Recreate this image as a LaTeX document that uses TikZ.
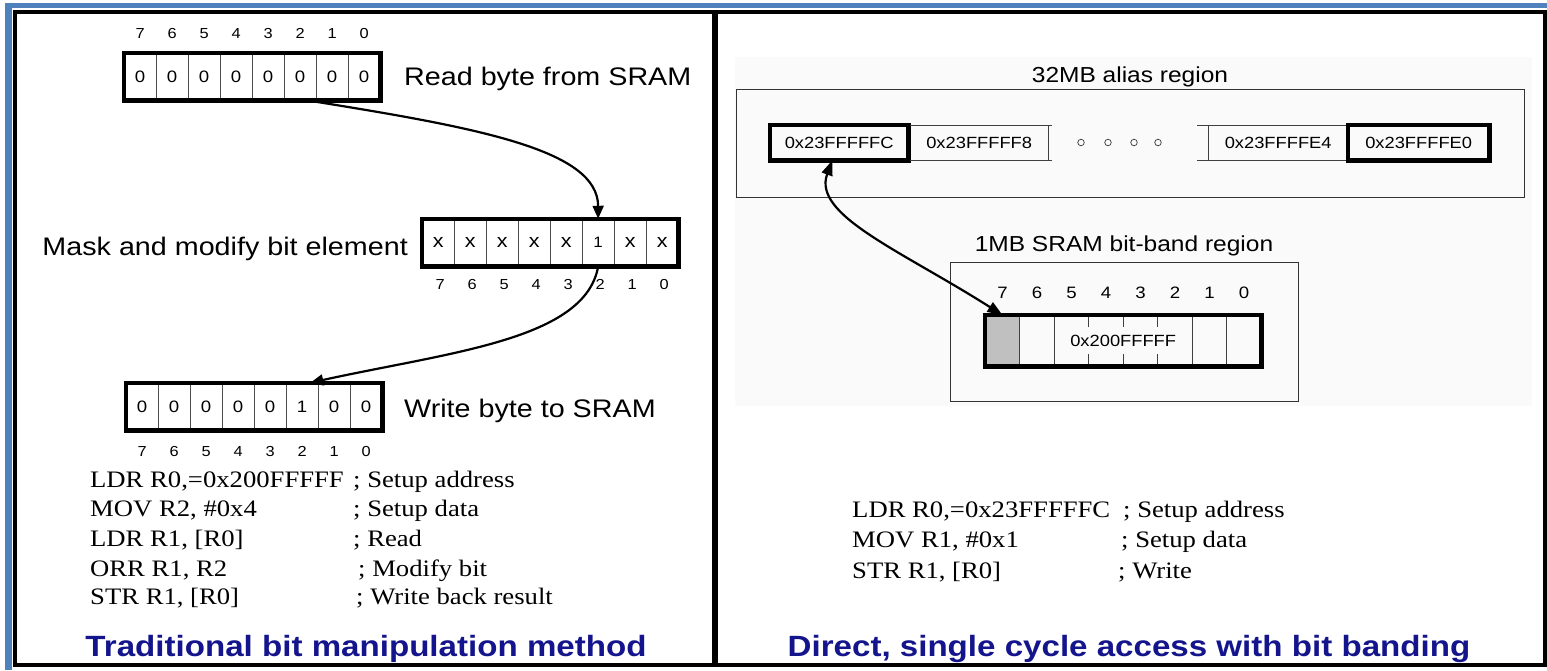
\documentclass[tikz,border=0pt]{standalone}
\usepackage{fontspec}
\setmainfont[FakeStretch=1.13]{Liberation Serif}
\newfontfamily\arial[FakeStretch=1.13]{Liberation Sans}
\usetikzlibrary{arrows.meta,calc}
\definecolor{frameblue}{RGB}{79,129,189}
\definecolor{titleblue}{RGB}{20,20,140}
\definecolor{bitgray}{RGB}{192,192,192}
\newcommand{\fsz}[1]{\fontsize{#1pt}{#1pt}\selectfont}

\begin{document}
\begin{tikzpicture}[x=1pt,y=-1pt,
  bitcell/.style={draw=black!70, line width=0.8pt, minimum width=32pt, minimum height=47pt,
    inner sep=0pt, anchor=north west, font=\arial\fsz{16.5}},
  byteframe/.style={line width=4.2pt},
  bitno/.style={inner sep=0pt, font=\arial\fsz{14.5}},
  bitnoR/.style={inner sep=0pt, font=\arial\fsz{16.5}},
  lbl/.style={inner sep=0pt, anchor=base west, font=\arial\fsz{25.4}},
  rlbl/.style={inner sep=0pt, anchor=base, font=\arial\fsz{21.7}},
  code/.style={inner sep=0pt, anchor=base west, font=\fsz{23.6}},
  heading/.style={inner sep=0pt, anchor=base, text=titleblue, font=\arial\bfseries\fsz{29.3}},
  addr/.style={inner sep=0pt, font=\arial\fsz{16.2}},
  addrcell/.style={addr, minimum height=35pt, anchor=north west},
  thinframe/.style={draw=black!80, line width=0.9pt},
  divider/.style={draw=black!75, line width=0.9pt},
  flow/.style={line width=2.2pt, -{Triangle[length=13pt,width=11pt]}},
  dotc/.style={circle, draw=black!80, line width=0.7pt, minimum size=6.5pt, inner sep=0pt},
  bbcell/.style={minimum width=34.5pt, minimum height=51pt, inner sep=0pt, anchor=north west}
]
\useasboundingbox (0,0) rectangle (1547,670);
\fill[white] (0,0) rectangle (1547,670);

% outer frames
\fill[frameblue] (4.5,2.5) rectangle (1547,7.5);
\fill[frameblue] (4.5,2.5) rectangle (11.5,670);
\draw[line width=4pt] (15.3,12) rectangle (1544.5,665);
\draw[line width=6pt] (715,12) -- (715,665);

% ---------------- left panel: read-modify-write ----------------
% byte read from SRAM
\foreach \b/\v [count=\i from 0] in {7/0,6/0,5/0,4/0,3/0,2/0,1/0,0/0}
  \node[bitcell] (t\b) at (123.75+32*\i, 52.75) {\v};
\draw[byteframe] (t7.north west) rectangle (t0.south east);
\foreach \b in {7,...,0}
  \node[bitno] at ($(t\b.center)+(0,-43)$) {\b};
\node[lbl] (readlbl) at (404,85) {Read byte from SRAM};

% masked byte
\foreach \b/\v [count=\i from 0] in {7/\fsz{19}x,6/\fsz{19}x,5/\fsz{19}x,4/\fsz{19}x,3/\fsz{19}x,2/\fsz{15}1,1/\fsz{19}x,0/\fsz{19}x}
  \node[bitcell] (m\b) at (421.75+32*\i, 218.75) {\v};
\draw[byteframe] (m7.north west) rectangle (m0.south east);
\foreach \b in {7,...,0}
  \node[bitno] at ($(m\b.center)+(2,42)$) {\b};
\node[lbl, anchor=base east] (masklbl) at (408,255) {Mask and modify bit element};

% byte written back
\foreach \b/\v [count=\i from 0] in {7/0,6/0,5/0,4/0,3/0,2/1,1/0,0/0}
  \node[bitcell] (w\b) at (125.75+32*\i, 382.75) {\v};
\draw[byteframe] (w7.north west) rectangle (w0.south east);
\foreach \b in {7,...,0}
  \node[bitno] at ($(w\b.center)+(0,45)$) {\b};
\node[lbl] (writelbl) at (404,417) {Write byte to SRAM};

% data flow
\draw[flow] ($(t2.south)!0.5!(t2.south east)$) .. controls (480,128) and (598,150) .. (m2.north);
\draw[flow] (m2.south) .. controls (585,340) and (450,352) .. ($(w2.north)!0.5!(w2.north east)$);

% instruction sequence
\node[code] (l1) at (90,487) {LDR R0,=0x200FFFFF};
\node[code] at (353,487) {; Setup address};
\node[code] (l2) at (90,516) {MOV R2, \#0x4};
\node[code] at (353,516) {; Setup data};
\node[code] (l3) at (90,546) {LDR R1, [R0]};
\node[code] at (353,546) {; Read};
\node[code] (l4) at (90,576) {ORR R1, R2};
\node[code] at (358,576) {; Modify bit};
\node[code] (l5) at (90,604) {STR R1, [R0]};
\node[code] at (356,604) {; Write back result};

\node[heading] (ltitle) at (366,656) {Traditional bit manipulation method};

% ---------------- right panel: bit-band alias ----------------
\fill[black!2] (735,57) rectangle (1532,406);

% alias region
\node[rlbl] (aliaslbl) at (1130,82) {32MB alias region};
\draw[thinframe] (736,89) rectangle (1524,197);
\node[addrcell, minimum width=138pt] (a1) at (770,125) {0x23FFFFFC};
\draw[byteframe] (a1.north west) rectangle (a1.south east);
\node[addrcell, minimum width=138pt] (a2) at (910,125) {0x23FFFFF8};
\draw[divider] (a2.north west) -- ++(142,0) (a2.south west) -- ++(142,0)
               (a2.north east) -- (a2.south east);
\foreach \x [count=\k] in {1081,1108,1134,1158}
  \node[dotc] (dot\k) at (\x,142.5) {};
\node[addrcell, minimum width=140pt] (a3) at (1208,125) {0x23FFFFE4};
\draw[divider] ($(a3.north west)+(-11,0)$) -- (a3.north east)
               ($(a3.south west)+(-11,0)$) -- (a3.south east)
               (a3.north west) -- (a3.south west);
\node[addrcell, minimum width=141pt] (a4) at (1348,125) {0x23FFFFE0};
\draw[byteframe] (a4.north west) rectangle (a4.south east);

% bit-band region
\node[rlbl] (bandlbl) at (1124,251) {1MB SRAM bit-band region};
\draw[thinframe] (950,262) rectangle (1298,401);
\foreach \b [count=\i from 0] in {7,...,0}
  \node[bbcell] (b\b) at (985+34.5*\i, 315) {};
\fill[bitgray] (b7.north west) rectangle (b7.south east);
\foreach \b in {7,6,2,1}
  \draw[divider] (b\b.north east) -- (b\b.south east);
\foreach \b in {5,4,3}
  \draw[divider] (b\b.north east) -- ++(0,12) (b\b.south east) -- ++(0,-12);
\draw[byteframe] (b7.north west) rectangle (b0.south east);
\node[addr] (bandaddr) at ($(b4.center)!0.5!(b3.center)$) {0x200FFFFF};
\foreach \b in {7,...,0}
  \node[bitnoR] at ($(b\b.center)+(0,-47.5)$) {\b};

% alias word <-> bit
\draw[line width=2.2pt, {Triangle[length=15pt,width=11pt]}-{Triangle[length=15pt,width=11pt]}]
  ($(a1.south west)!0.45!(a1.south east)$) .. controls (812,215) and (900,250) .. (b7.north);

% instruction sequence
\node[code] (r1) at (852,517) {LDR R0,=0x23FFFFFC};
\node[code] at (1123,517) {; Setup address};
\node[code] (r2) at (852,547) {MOV R1, \#0x1};
\node[code] at (1121,547) {; Setup data};
\node[code] (r3) at (852,578) {STR R1, [R0]};
\node[code] at (1118,578) {; Write};

\node[heading] (rtitle) at (1129,656) {Direct, single cycle access with bit banding};
\end{tikzpicture}
\end{document}
